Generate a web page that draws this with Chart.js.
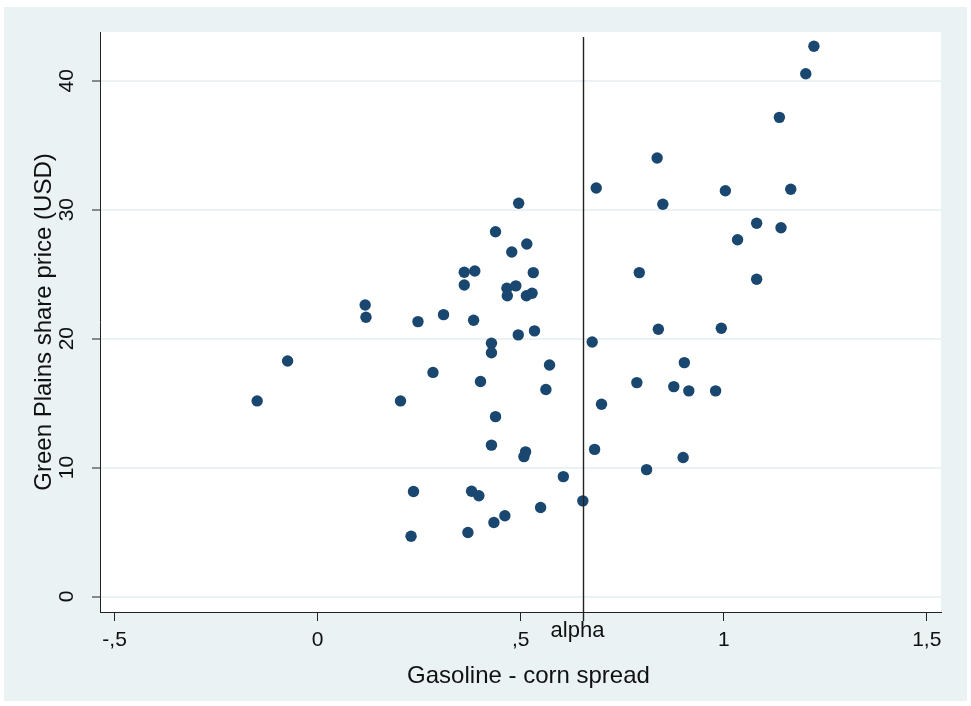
<!DOCTYPE html>
<html>
<head>
<meta charset="utf-8">
<script src="https://cdn.jsdelivr.net/npm/chart.js@4"></script>
<style>
  body { margin: 0; background: #fff; }
  canvas { display: block; }
</style>
</head>
<body>
<canvas id="chart" width="971" height="706"></canvas>
<script>
// Gasoline - corn spread (x) vs Green Plains share price (y)
const spread = [
  1.222, 1.202, 1.137, 0.836, 0.686, 1.004, 1.165, 0.495, 0.850, 0.438,
  1.081, 1.141, 1.034, 0.515, 0.478, 0.361, 0.387, 0.531, 0.792, 0.361,
  1.081, 0.466, 0.467, 0.488, 0.514, 0.528, 0.117, 0.119, 0.247, 0.310,
  0.384, 0.494, 0.534, 0.676, 0.839, 0.994, 0.428, 0.428, -0.074, 0.284,
  0.571, 0.903, 0.401, 0.562, 0.786, 0.877, 0.914, 0.980, -0.149, 0.204,
  0.699, 0.438, 0.428, 0.512, 0.508, 0.682, 0.900, 0.810, 0.605, 0.236,
  0.379, 0.397, 0.653, 0.549, 0.461, 0.434, 0.230, 0.370
];
const price = [
  42.67, 40.54, 37.16, 34.01, 31.68, 31.47, 31.58, 30.50, 30.42, 28.29,
  28.95, 28.60, 27.67, 27.34, 26.72, 25.15, 25.25, 25.12, 25.12, 24.16,
  24.60, 23.91, 23.33, 24.09, 23.33, 23.52, 22.61, 21.66, 21.32, 21.86,
  21.43, 20.29, 20.60, 19.74, 20.73, 20.81, 19.64, 18.91, 18.27, 17.38,
  17.96, 18.14, 16.68, 16.06, 16.59, 16.28, 15.95, 15.95, 15.17, 15.17,
  14.91, 13.95, 11.74, 11.22, 10.85, 11.41, 10.78, 9.84, 9.30, 8.14,
  8.17, 7.81, 7.42, 6.90, 6.26, 5.74, 4.68, 4.96
];

const xTickVals = [-0.5, 0, 0.5, 1, 1.5];
const xTickLabels = ['-,5', '0', ',5', '1', '1,5'];
const yTickVals = [0, 10, 20, 30, 40];
const yTickLabels = ['0', '10', '20', '30', '40'];

const alphaX = 0.653;          // xline position
const alphaLabel = 'alpha';
const xTitle = 'Gasoline - corn spread';

const BG = '#eaf2f3';
const NAVY = '#1a476f';
const FONT = '"Liberation Sans", Arial, sans-serif';

/* fondo gris-azulado de Stata y area blanca del grafico */
const backdrop = {
  id: 'backdrop',
  beforeDraw(chart) {
    const { ctx, chartArea: a } = chart;
    ctx.save();
    ctx.fillStyle = '#fff';
    ctx.fillRect(0, 0, chart.width, chart.height);
    ctx.fillStyle = BG;
    ctx.fillRect(4, 7, 963, 694);
    ctx.fillStyle = '#fff';
    ctx.fillRect(a.left, a.top, a.right - a.left, a.bottom - a.top);
    ctx.restore();
  }
};

/* linea vertical alpha, titulo x y etiquetas del eje y giradas */
const extras = {
  id: 'extras',
  afterDatasetsDraw(chart) {
    const { ctx, chartArea: a, scales: { x, y } } = chart;
    const px = Math.round(x.getPixelForValue(alphaX)) + 0.5;
    ctx.save();
    ctx.strokeStyle = '#222';
    ctx.lineWidth = 1.4;
    ctx.beginPath();
    ctx.moveTo(px, a.top + 5);
    ctx.lineTo(px, a.bottom + 9);
    ctx.stroke();

    ctx.fillStyle = '#111';
    ctx.font = '22px ' + FONT;
    ctx.textAlign = 'center';
    ctx.textBaseline = 'alphabetic';
    ctx.fillText(alphaLabel, px - 6, 636.5);

    ctx.font = '24px ' + FONT;
    ctx.textBaseline = 'middle';
    ctx.fillText(xTitle, (a.left + a.right) / 2 + 8, 676);

    ctx.font = '21px ' + FONT;
    yTickVals.forEach((v, i) => {
      const py = y.getPixelForValue(v);
      ctx.save();
      ctx.translate(67, py);
      ctx.rotate(-Math.PI / 2);
      ctx.fillText(yTickLabels[i], 0, 0);
      ctx.restore();
    });
    ctx.restore();
  }
};

const points = spread.map((v, i) => ({ x: v, y: price[i] }));

const chart = new Chart(document.getElementById('chart'), {
  type: 'scatter',
  data: {
    datasets: [{
      data: points,
      backgroundColor: NAVY,
      borderColor: NAVY,
      borderWidth: 0,
      pointRadius: 5.7,
      pointHoverRadius: 5.7
    }]
  },
  options: {
    responsive: false,
    animation: false,
    devicePixelRatio: 1,
    layout: { padding: { top: 32, right: 30, left: 0, bottom: 0 } },
    plugins: {
      legend: { display: false },
      tooltip: { enabled: false }
    },
    scales: {
      x: {
        type: 'linear',
        min: -0.536,
        max: 1.535,
        afterBuildTicks: (s) => { s.ticks = xTickVals.map(v => ({ value: v })); },
        afterFit: (s) => { s.height = 94; },
        border: { display: true, color: '#222', width: 1 },
        grid: {
          drawOnChartArea: false,
          drawTicks: true,
          tickLength: 9,
          tickColor: '#222'
        },
        ticks: {
          padding: 7,
          color: '#111',
          font: { family: FONT, size: 21 },
          maxRotation: 0,
          autoSkip: false,
          callback: (v) => xTickLabels[xTickVals.indexOf(v)]
        },
        title: { display: false }
      },
      y: {
        type: 'linear',
        min: -1.2,
        max: 43.78,
        afterBuildTicks: (s) => { s.ticks = yTickVals.map(v => ({ value: v })); },
        afterFit: (s) => { s.width = 100; },
        border: { display: true, color: '#222', width: 1 },
        grid: {
          color: BG,
          lineWidth: 2,
          drawTicks: true,
          tickLength: 8,
          tickColor: '#222',
          tickWidth: 1
        },
        ticks: { display: false },
        title: {
          display: true,
          text: 'Green Plains share price (USD)',
          color: '#111',
          font: { family: FONT, size: 24 },
          padding: { top: 29.6, bottom: 0 }
        }
      }
    }
  },
  plugins: [backdrop, extras]
});
</script>
</body>
</html>
